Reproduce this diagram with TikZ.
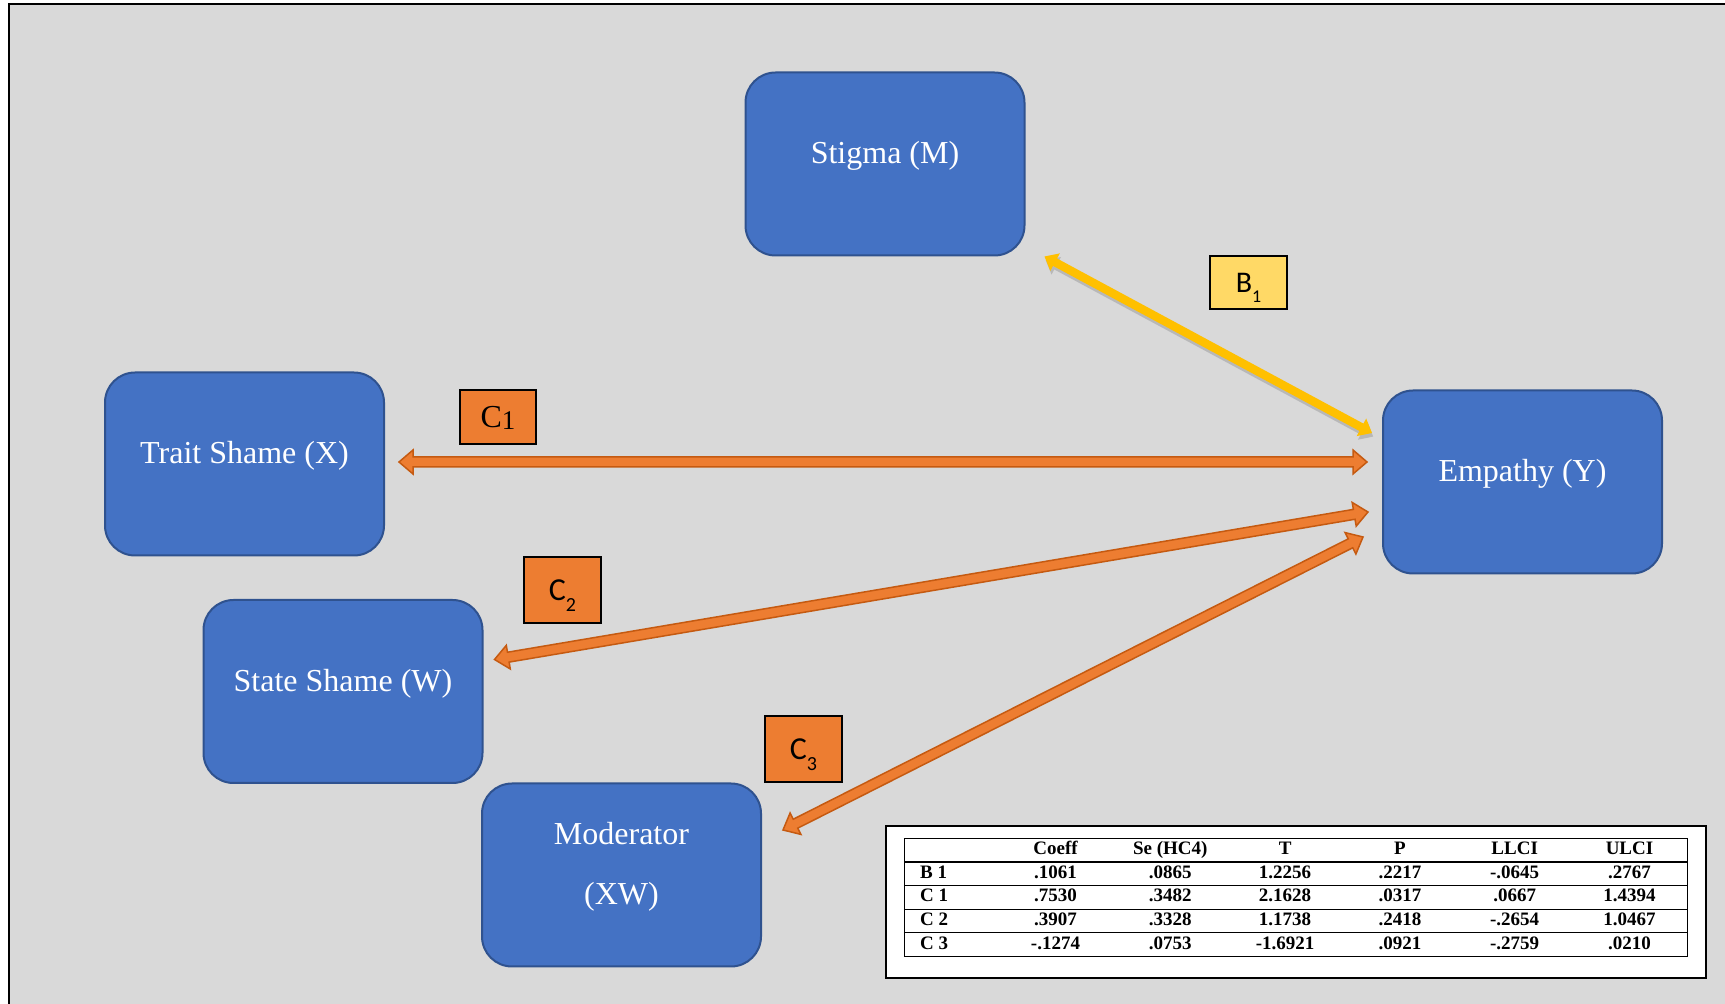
\documentclass[tikz,border=0pt]{standalone}
\usepackage{fontspec}
\setmainfont{Liberation Serif}
\newfontfamily\labelfont{Carlito}
\usepackage{array}
\usetikzlibrary{calc}
\definecolor{panelgray}{HTML}{D9D9D9}
\definecolor{boxblue}{HTML}{4472C4}
\definecolor{boxedge}{HTML}{2F528F}
\definecolor{pathorange}{HTML}{ED7D31}
\definecolor{pathedge}{HTML}{C55A11}
\definecolor{pathyellow}{HTML}{FFC000}
\definecolor{labelyellow}{HTML}{FFD966}
\setlength{\tabcolsep}{0pt}
\setlength{\arrayrulewidth}{0.6pt}
% block arrow with two heads: style, from, to, head length, half head width, half shaft width
\newcommand{\dblarrow}[6]{%
  \coordinate (da-a) at (#2);
  \coordinate (da-b) at (#3);
  \coordinate (da-p) at ($(da-a)!#4!(da-b)$);
  \coordinate (da-q) at ($(da-b)!#4!(da-a)$);
  \draw[#1] (da-a) -- ($(da-p)!#5!90:(da-b)$) -- ($(da-p)!#6!90:(da-b)$)
    -- ($(da-q)!#6!-90:(da-a)$) -- ($(da-q)!#5!-90:(da-a)$) -- (da-b)
    -- ($(da-q)!#5!90:(da-a)$) -- ($(da-q)!#6!90:(da-a)$)
    -- ($(da-p)!#6!-90:(da-b)$) -- ($(da-p)!#5!-90:(da-b)$) -- cycle;
}

\begin{document}
\begin{tikzpicture}[
  x=0.5pt, y=-0.5pt,
  var/.style={
    draw=boxedge, line width=1pt, fill=boxblue, rounded corners=15pt,
    minimum width=139.5pt, minimum height=91.5pt, text=white,
    font=\fontsize{16}{19}\selectfont, text height=0pt, text depth=0pt
  },
  coef/.style={draw=black, line width=0.6pt, inner sep=0pt, minimum width=38.5pt},
  orangecoef/.style={coef, fill=pathorange, minimum height=33pt},
  orangepath/.style={draw=pathedge, line width=0.75pt, fill=pathorange},
  yellowpath/.style={draw=none, fill=pathyellow},
  shadowpath/.style={draw=none, fill=black, opacity=0.15, transform canvas={shift={(0.6pt,-1.8pt)}}}
]
\useasboundingbox (0,0) rectangle (1725,1004);
\fill[panelgray] (9,4) rectangle (1725,1004);
\draw[line width=1pt] (1725,4) -- (9,4) -- (9,1004);

% variables
\node[var] (s) at (885,164) {Stigma (M)};
\node[var] (t) at (244.5,464) {Trait Shame (X)};
\node[var] (w) at (343,691.5) {State Shame (W)};
\node[var] (xw) at (621.5,875)
 {\raisebox{-14.8pt}[0pt][0pt]{\begin{tabular}[b]{@{}c@{}}Moderator\\[11pt](XW)\end{tabular}}};
\node[var] (e) at (1522.5,482) {Empathy (Y)};

% paths
\dblarrow{shadowpath}{[shift={(19,0)}]s.south east}{[shift={(-10,-49)}]e.west}{6pt}{5pt}{2.1pt}
\dblarrow{yellowpath}{[shift={(19,0)}]s.south east}{[shift={(-10,-49)}]e.west}{6pt}{5pt}{2.1pt}
\dblarrow{orangepath}{[shift={(14,-2)}]t.east}{[shift={(-15,-20)}]e.west}{7pt}{6pt}{2.5pt}
\dblarrow{orangepath}{[shift={(11,-32)}]w.east}{[shift={(-14,30)}]e.west}{7pt}{6pt}{2.5pt}
\dblarrow{orangepath}{[shift={(21,-45)}]xw.east}{[shift={(-19,55)}]e.west}{7pt}{6pt}{2.5pt}

% path labels
\node[coef, fill=labelyellow, minimum height=26.5pt, font=\labelfont\fontsize{15}{18}\selectfont]
 (b1) at (1248.5,282.5) {B\raisebox{-5pt}[0pt][0pt]{\fontsize{9}{11}\selectfont 1}};
\node[orangecoef, minimum width=38pt, minimum height=27pt, font=\fontsize{16}{19}\selectfont]
 (c1) at (498,417) {C\raisebox{-1pt}[0pt][0pt]{\fontsize{13.5}{16}\selectfont 1}};
\node[orangecoef, font=\labelfont\fontsize{16}{19}\selectfont]
 (c2) at (562.5,590) {C\raisebox{-5.5pt}[0pt][0pt]{\fontsize{10}{12}\selectfont 2}};
\node[orangecoef, font=\labelfont\fontsize{16}{19}\selectfont]
 (c3) at (803.5,749) {C\raisebox{-5.5pt}[0pt][0pt]{\fontsize{10}{12}\selectfont 3}};

% results table
\node[draw=black, line width=0.6pt, fill=white, minimum width=410pt, minimum height=76pt]
 (tabbox) at (1296,902) {};
\node[anchor=north, inner sep=0pt, font=\fontsize{9.5}{11.2}\selectfont\bfseries]
 (tab) at ([yshift=-6pt]tabbox.north)
 {\begin{tabular}{|@{\hspace{7.5pt}}p{39pt}*{6}{>{\centering\arraybackslash}p{57.4pt}}|}
  \hline
      & Coeff  & Se (HC4) & T       & P     & LLCI   & ULCI   \\ \hline
  B 1 & .1061  & .0865    & 1.2256  & .2217 & -.0645 & .2767  \\ \hline
  C 1 & .7530  & .3482    & 2.1628  & .0317 & .0667  & 1.4394 \\ \hline
  C 2 & .3907  & .3328    & 1.1738  & .2418 & -.2654 & 1.0467 \\ \hline
  C 3 & -.1274 & .0753    & -1.6921 & .0921 & -.2759 & .0210  \\ \hline
 \end{tabular}};
\end{tikzpicture}
\end{document}
